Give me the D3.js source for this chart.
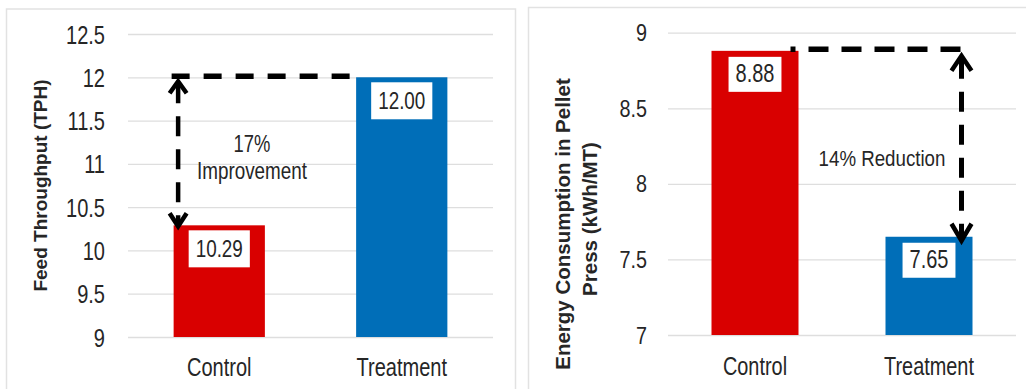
<!DOCTYPE html>
<html>
<head>
<meta charset="utf-8">
<script src="https://cdn.jsdelivr.net/npm/d3@7"></script>
<style>
  body { margin: 0; background: #fff; }
  text { font-family: "Liberation Sans", Arial, sans-serif; }
</style>
</head>
<body>
<div class="chart"></div>
<script>
var categories = ["Control", "Treatment"];
var throughput = [10.29, 12.00];
var energy = [8.88, 7.65];
var throughputTicks = [9, 9.5, 10, 10.5, 11, 11.5, 12, 12.5];
var energyTicks = [7, 7.5, 8, 8.5, 9];
var barColors = ["#d90000", "#006eb8"];

var textColor = "#262626";

var svg = d3.select(".chart")
  .append("svg")
  .attr("width", 1026)
  .attr("height", 389);

// narrow-looking text: regular font squeezed horizontally
function squeezedText(parent, x, y, str, size, sx, anchor) {
  return parent.append("text")
    .attr("transform", "translate(" + x + "," + y + ") scale(" + sx + ",1)")
    .attr("text-anchor", anchor || "middle")
    .attr("font-size", size)
    .attr("fill", textColor)
    .text(str);
}

function chevron(parent, cx, tipY, half, len) {
  parent.append("path")
    .attr("d", "M" + (cx - half) + "," + (tipY + len) + "L" + cx + "," + tipY + "L" + (cx + half) + "," + (tipY + len))
    .attr("fill", "none")
    .attr("stroke", "#000")
    .attr("stroke-width", 4.5)
    .attr("stroke-linejoin", "miter");
}

function panel(o, values) {
  var x = d3.scaleBand().domain(categories).range([o.left, o.right]);
  var y = d3.scaleLinear().domain(o.domain).range([o.bottom, o.top]);
  var bw = x.bandwidth();
  var g = svg.append("g");

  g.append("rect")
    .attr("x", o.box[0]).attr("y", o.box[1])
    .attr("width", o.box[2]).attr("height", o.box[3])
    .attr("fill", "none")
    .attr("stroke", "#e2e2e2")
    .attr("stroke-width", 1.5);

  var axis = g.append("g")
    .attr("transform", "translate(" + o.left + ",0)")
    .call(d3.axisLeft(y)
      .tickValues(o.ticks)
      .tickSize(-(o.right - o.left))
      .tickPadding(0)
      .tickFormat(d3.format("")));
  axis.attr("font-family", null).attr("font-size", null);
  axis.select(".domain").remove();
  axis.selectAll(".tick line").attr("stroke", "#dedede").attr("stroke-width", 1.3);
  axis.selectAll(".tick text")
    .attr("x", null)
    .attr("dy", "0.35em")
    .attr("transform", "translate(" + (-o.tickGap) + ",0) scale(" + o.tickScale + ",1)")
    .attr("font-size", o.tickSize)
    .attr("fill", textColor);

  g.selectAll(".bar")
    .data(values)
    .enter()
    .append("rect")
    .attr("class", "bar")
    .attr("x", (d, i) => x(categories[i]) + bw * 0.25)
    .attr("width", bw * 0.5)
    .attr("y", d => y(d))
    .attr("height", d => o.bottom - y(d))
    .attr("fill", (d, i) => barColors[i]);

  // value labels in white boxes
  values.forEach(function (v, i) {
    var cx = x(categories[i]) + bw / 2;
    var top = y(v) + o.labelGap;
    var lg = g.append("g");
    var box = lg.append("rect");
    var t = squeezedText(lg, cx, top + o.labelBase, v.toFixed(2), o.labelSize, o.labelScale);
    var w = t.node().getComputedTextLength() * o.labelScale + 14;
    box.attr("x", cx - w / 2).attr("y", top)
      .attr("width", w).attr("height", o.labelBox)
      .attr("fill", "#fff");
  });

  categories.forEach(function (c) {
    squeezedText(g, x(c) + bw / 2, o.catY, c, o.catSize, o.catScale);
  });

  return { x: x, y: y, bw: bw, g: g };
}

// left chart
var left = panel({
  left: 128, right: 493, top: 34, bottom: 337,
  domain: [9, 12.5], ticks: throughputTicks,
  box: [6.5, 9, 509, 400],
  tickGap: 23, tickSize: 26, tickScale: 0.77,
  labelGap: 5, labelBase: 27, labelBox: 37, labelSize: 23, labelScale: 0.82,
  catY: 376, catSize: 26, catScale: 0.77
}, throughput);

left.g.append("text")
  .attr("transform", "translate(47," + ((34 + 337) / 2) + ") rotate(-90)")
  .attr("text-anchor", "middle")
  .attr("font-size", 19)
  .attr("font-weight", "bold")
  .attr("fill", textColor)
  .text("Feed Throughput (TPH)");

(function () {
  var x = left.x, y = left.y, bw = left.bw, g = left.g;
  var barL0 = x(categories[0]) + bw * 0.25;
  var barL1 = x(categories[1]) + bw * 0.25;
  var vx = barL0 + 4.5;
  var yTop = y(throughput[1]);
  var yBot = y(throughput[0]);
  g.append("line")
    .attr("x1", barL0 - 2).attr("x2", barL1)
    .attr("y1", yTop - 1).attr("y2", yTop - 1)
    .attr("stroke", "#000").attr("stroke-width", 5.5)
    .attr("stroke-dasharray", "18,14");
  g.append("line")
    .attr("x1", vx).attr("x2", vx)
    .attr("y1", yTop + 6).attr("y2", yBot - 2)
    .attr("stroke", "#000").attr("stroke-width", 4.5)
    .attr("stroke-dasharray", "20,13");
  chevron(g, vx, yTop + 4, 8.5, 12);
  chevron(g, vx, yBot + 1, 8.5, -13);
  squeezedText(g, 252, 152, "17%", 23, 0.8);
  squeezedText(g, 252, 179, "Improvement", 23, 0.82);
})();

// right chart
var right = panel({
  left: 668, right: 1016, top: 32.7, bottom: 335,
  domain: [7, 9], ticks: energyTicks,
  box: [528.5, 7.5, 520, 400],
  tickGap: 21, tickSize: 23, tickScale: 0.86,
  labelGap: 6, labelBase: 25.5, labelBox: 35, labelSize: 25, labelScale: 0.8,
  catY: 375, catSize: 25.5, catScale: 0.78
}, energy);

right.g.append("text")
  .attr("transform", "translate(569.5,224) rotate(-90)")
  .attr("text-anchor", "middle")
  .attr("font-size", 20.5)
  .attr("font-weight", "bold")
  .attr("fill", textColor)
  .text("Energy Consumption in Pellet");
right.g.append("text")
  .attr("transform", "translate(596.5,219) rotate(-90)")
  .attr("text-anchor", "middle")
  .attr("font-size", 20.5)
  .attr("font-weight", "bold")
  .attr("fill", textColor)
  .text("Press (kWh/MT)");

(function () {
  var x = right.x, y = right.y, bw = right.bw, g = right.g;
  var barR0 = x(categories[0]) + bw * 0.75;
  var barR1 = x(categories[1]) + bw * 0.75;
  var vx = barR1 - 11;
  var yTop = y(energy[0]);
  var yBot = y(energy[1]);
  g.append("line")
    .attr("x1", barR0 - 8).attr("x2", vx)
    .attr("y1", yTop - 1.5).attr("y2", yTop - 1.5)
    .attr("stroke", "#000").attr("stroke-width", 5.5)
    .attr("stroke-dasharray", "20,13")
    .attr("stroke-dashoffset", 15);
  g.append("line")
    .attr("x1", vx).attr("x2", vx)
    .attr("y1", yTop + 8).attr("y2", yBot + 2)
    .attr("stroke", "#000").attr("stroke-width", 5)
    .attr("stroke-dasharray", "20,13");
  chevron(g, vx, yTop + 5, 10, 15);
  chevron(g, vx, yBot + 4, 10, -17);
  squeezedText(g, 882, 166, "14% Reduction", 22, 0.85);
})();
</script>
</body>
</html>
